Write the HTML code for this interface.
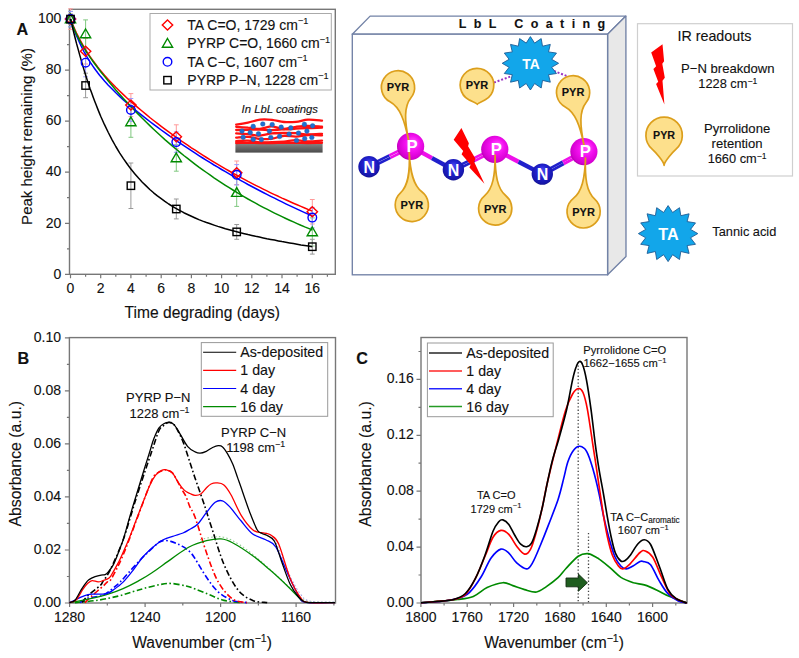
<!DOCTYPE html>
<html><head><meta charset="utf-8"><style>
html,body{margin:0;padding:0;background:#fff;}
svg{display:block;font-family:"Liberation Sans", sans-serif;}
</style></head><body>
<svg width="799" height="658" viewBox="0 0 799 658">
<defs><radialGradient id="gP" cx="0.55" cy="0.45" r="0.6" fx="0.6" fy="0.35"><stop offset="0" stop-color="#ff60ff"/><stop offset="0.45" stop-color="#f410f0"/><stop offset="0.85" stop-color="#d400d0"/><stop offset="1" stop-color="#a800a4"/></radialGradient><radialGradient id="gN" cx="0.5" cy="0.45" r="0.6" fx="0.5" fy="0.3"><stop offset="0" stop-color="#4a4af0"/><stop offset="0.45" stop-color="#2222d0"/><stop offset="0.85" stop-color="#1616a8"/><stop offset="1" stop-color="#0c0c78"/></radialGradient></defs>
<path d="M352.3,34.2 L370.1,16.1 L625.9,16.1 L607.6,34.2 Z" fill="#fff" stroke="#7282a6" stroke-width="1.35" stroke-linejoin="round"/>
<path d="M607.6,34.2 L625.9,16.1 L626,256.4 L607.6,274.8 Z" fill="#e8e8e8" stroke="#7282a6" stroke-width="1.35" stroke-linejoin="round"/>
<rect x="352.3" y="34.2" width="255.3" height="240.6" fill="#fff" stroke="#7282a6" stroke-width="1.35"/>
<text x="458.7" y="27.9" font-size="12.5" font-weight="bold" fill="#111" stroke="#111" stroke-width="0.12" letter-spacing="7.38">LbL Coating</text>
<path d="M494,82.5 L512,76 M554,71 L570.5,77.5" stroke="#9a34c4" stroke-width="2" stroke-dasharray="2,1.8" fill="none"/>
<path d="M411.2,147.6L390.4,157.8" stroke="#ee10ea" stroke-width="2.6"/>
<path d="M390.4,157.8L369.6,168.0" stroke="#2020cc" stroke-width="2.6"/>
<path d="M410.0,145.2L389.2,155.4" stroke="#ee10ea" stroke-width="2.6"/>
<path d="M389.2,155.4L368.4,165.6" stroke="#2020cc" stroke-width="2.6"/>
<path d="M410.6,146.4L432.0,158.1" stroke="#ee10ea" stroke-width="4.4"/>
<path d="M432.0,158.1L453.4,169.8" stroke="#2020cc" stroke-width="4.4"/>
<path d="M495.4,150.5L474.7,160.8" stroke="#ee10ea" stroke-width="2.6"/>
<path d="M474.7,160.8L454.0,171.0" stroke="#2020cc" stroke-width="2.6"/>
<path d="M494.2,148.1L473.5,158.3" stroke="#ee10ea" stroke-width="2.6"/>
<path d="M473.5,158.3L452.8,168.6" stroke="#2020cc" stroke-width="2.6"/>
<path d="M494.8,149.3L518.5,161.7" stroke="#ee10ea" stroke-width="4.4"/>
<path d="M518.5,161.7L542.3,174.1" stroke="#2020cc" stroke-width="4.4"/>
<path d="M584.5,152.8L563.7,164.0" stroke="#ee10ea" stroke-width="2.6"/>
<path d="M563.7,164.0L542.9,175.3" stroke="#2020cc" stroke-width="2.6"/>
<path d="M583.3,150.4L562.5,161.7" stroke="#ee10ea" stroke-width="2.6"/>
<path d="M562.5,161.7L541.7,172.9" stroke="#2020cc" stroke-width="2.6"/>
<circle cx="410.6" cy="146.4" r="13.6" fill="url(#gP)"/>
<circle cx="494.8" cy="149.3" r="13.6" fill="url(#gP)"/>
<circle cx="583.9" cy="151.6" r="13.6" fill="url(#gP)"/>
<circle cx="369.0" cy="166.8" r="10.7" fill="url(#gN)"/>
<circle cx="453.4" cy="169.8" r="10.7" fill="url(#gN)"/>
<circle cx="542.3" cy="174.1" r="10.7" fill="url(#gN)"/>
<path d="M390.02,101.86 C400.06,107.36 404.60,120.42 408.70,141.00 C404.60,120.42 403.79,106.62 410.95,97.69 A16.6,16.6 0 1 0 390.02,101.86Z" fill="#fde08c" stroke="#dc9f1c" stroke-width="1.7" stroke-linejoin="round"/>
<text x="398.0" y="91.4" font-size="11" text-anchor="middle" font-weight="bold" fill="#111" stroke="#111" stroke-width="0.12">PYR</text>
<path d="M421.83,191.77 C413.23,185.25 410.18,172.26 409.20,152.50 C410.18,172.26 408.43,185.49 400.51,192.83 A16.6,16.6 0 1 0 421.83,191.77Z" fill="#fde08c" stroke="#dc9f1c" stroke-width="1.7" stroke-linejoin="round"/>
<text x="411.8" y="209.1" font-size="11" text-anchor="middle" font-weight="bold" fill="#111" stroke="#111" stroke-width="0.12">PYR</text>
<path d="M505.85,195.76 C497.35,188.66 495.14,175.30 495.10,155.00 C495.14,175.30 492.97,188.67 484.51,195.80 A16.6,16.6 0 1 0 505.85,195.76Z" fill="#fde08c" stroke="#dc9f1c" stroke-width="1.7" stroke-linejoin="round"/>
<text x="495.2" y="212.6" font-size="11" text-anchor="middle" font-weight="bold" fill="#111" stroke="#111" stroke-width="0.12">PYR</text>
<path d="M565.23,106.91 C575.19,112.28 579.90,125.18 584.10,145.50 C579.90,125.18 579.11,111.47 586.12,102.59 A16.6,16.6 0 1 0 565.23,106.91Z" fill="#fde08c" stroke="#dc9f1c" stroke-width="1.7" stroke-linejoin="round"/>
<text x="573.1" y="96.4" font-size="11" text-anchor="middle" font-weight="bold" fill="#111" stroke="#111" stroke-width="0.12">PYR</text>
<path d="M594.72,199.07 C586.51,191.67 584.78,178.25 585.50,158.00 C584.78,178.25 582.10,191.51 573.39,198.31 A16.6,16.6 0 1 0 594.72,199.07Z" fill="#fde08c" stroke="#dc9f1c" stroke-width="1.7" stroke-linejoin="round"/>
<text x="583.6" y="215.5" font-size="11" text-anchor="middle" font-weight="bold" fill="#111" stroke="#111" stroke-width="0.12">PYR</text>
<path d="M468.83,99.78 C469.46,100.13 477.29,103.58 477.30,104.30 C477.29,103.58 485.01,99.89 485.63,99.52 A16.8,16.8 0 1 0 468.83,99.78Z" fill="#fde08c" stroke="#dc9f1c" stroke-width="1.7" stroke-linejoin="round"/>
<text x="477.0" y="89.2" font-size="11" text-anchor="middle" font-weight="bold" fill="#111" stroke="#111" stroke-width="0.12">PYR</text>
<text x="412.1" y="152.2" font-size="16.7" text-anchor="middle" font-weight="bold" fill="#fff">P</text>
<text x="496.3" y="155.1" font-size="16.7" text-anchor="middle" font-weight="bold" fill="#fff">P</text>
<text x="585.4" y="157.4" font-size="16.7" text-anchor="middle" font-weight="bold" fill="#fff">P</text>
<text x="369.2" y="172.6" font-size="16" text-anchor="middle" font-weight="bold" fill="#fff">N</text>
<text x="453.6" y="175.6" font-size="16" text-anchor="middle" font-weight="bold" fill="#fff">N</text>
<text x="542.5" y="179.9" font-size="16" text-anchor="middle" font-weight="bold" fill="#fff">N</text>
<path d="M530.4,36.6 L534.6,43.1 L541.2,38.6 L542.5,46.2 L550.3,44.4 L548.5,51.9 L556.5,53.1 L551.7,59.3 L558.6,63.3 L551.7,67.3 L556.5,73.5 L548.5,74.7 L550.3,82.2 L542.5,80.4 L541.2,88.0 L534.6,83.5 L530.4,90.0 L526.2,83.5 L519.6,88.0 L518.3,80.4 L510.5,82.2 L512.3,74.7 L504.3,73.5 L509.1,67.3 L502.2,63.3 L509.1,59.3 L504.3,53.1 L512.3,51.9 L510.5,44.4 L518.3,46.2 L519.6,38.6 L526.2,43.1Z" fill="#12a6ea" stroke="#1d5c96" stroke-width="0.9" stroke-linejoin="miter"/>
<text x="531.0" y="69.3" font-size="13.8" text-anchor="middle" font-weight="bold" fill="#fff">TA</text>
<path transform="translate(461.4,128.1) rotate(-20.7) scale(1.0)" d="M0.0,0.0 L-11.3,8.1 L-6.4,22.0 L-9.1,24.6 L-4.3,37.5 L-6.4,39.6 L1.9,60.2 L0.0,36.5 L2.3,33.4 L-0.2,19.4 L1.6,16.9Z" fill="#ff0000"/>
<rect x="637.5" y="23.7" width="155" height="152.3" fill="#fff" stroke="#cfcfcf" stroke-width="1.2"/>
<text x="714.4" y="40.5" font-size="14.3" text-anchor="middle" fill="#111" stroke="#111" stroke-width="0.12">IR readouts</text>
<path transform="translate(662.5,44.3) rotate(0) scale(1.0)" d="M0.0,0.0 L-11.3,8.1 L-6.4,22.0 L-9.1,24.6 L-4.3,37.5 L-6.4,39.6 L1.9,60.2 L0.0,36.5 L2.3,33.4 L-0.2,19.4 L1.6,16.9Z" fill="#ff0000"/>
<text x="727.8" y="73.0" font-size="13.1" text-anchor="middle" fill="#111" stroke="#111" stroke-width="0.12">P−N breakdown</text>
<text x="727.8" y="88.3" font-size="12.8" text-anchor="middle" fill="#111" stroke="#111" stroke-width="0.12">1228 cm<tspan font-size="8.6" dy="-4.8">−1</tspan></text>
<path d="M651.92,148.83 C654.99,151.59 664.10,161.76 664.10,165.30 C664.10,161.76 673.21,151.59 676.28,148.83 A18.2,18.2 0 1 0 651.92,148.83Z" fill="#fde08c" stroke="#dc9f1c" stroke-width="1.7" stroke-linejoin="round"/>
<text x="664.1" y="139.3" font-size="10.7" text-anchor="middle" font-weight="bold" fill="#111" stroke="#111" stroke-width="0.12">PYR</text>
<text x="737.1" y="132.8" font-size="13.1" text-anchor="middle" fill="#111" stroke="#111" stroke-width="0.12">Pyrrolidone</text>
<text x="737.1" y="148.2" font-size="13.1" text-anchor="middle" fill="#111" stroke="#111" stroke-width="0.12">retention</text>
<text x="737.1" y="163.3" font-size="12.8" text-anchor="middle" fill="#111" stroke="#111" stroke-width="0.12">1660 cm<tspan font-size="8.6" dy="-4.8">−1</tspan></text>
<path d="M668.1,205.6 L672.6,212.5 L679.5,207.7 L680.8,215.7 L689.1,213.8 L687.1,221.6 L695.5,222.9 L690.5,229.4 L697.8,233.6 L690.5,237.8 L695.5,244.3 L687.1,245.6 L689.1,253.4 L680.8,251.5 L679.5,259.5 L672.6,254.7 L668.1,261.6 L663.6,254.7 L656.7,259.5 L655.4,251.5 L647.1,253.4 L649.1,245.6 L640.7,244.3 L645.7,237.8 L638.4,233.6 L645.7,229.4 L640.7,222.9 L649.1,221.6 L647.1,213.8 L655.4,215.7 L656.7,207.7 L663.6,212.5Z" fill="#12a6ea" stroke="#1d5c96" stroke-width="0.9"/>
<text x="668.4" y="240.4" font-size="16.2" text-anchor="middle" font-weight="bold" fill="#fff">TA</text>
<text x="712.3" y="235.9" font-size="12.8" fill="#111" stroke="#111" stroke-width="0.12">Tannic acid</text>
<rect x="69.5" y="9.3" width="265.8" height="265.0" fill="none" stroke="#777" stroke-width="1.4"/>
<path d="M65.0,274.3H69.5 M67.0,248.8H69.5 M65.0,223.3H69.5 M67.0,197.7H69.5 M65.0,172.2H69.5 M67.0,146.7H69.5 M65.0,121.2H69.5 M67.0,95.7H69.5 M65.0,70.1H69.5 M67.0,44.6H69.5 M65.0,19.1H69.5 M70.5,274.3V278.3 M85.6,274.3V276.8 M100.7,274.3V278.3 M115.8,274.3V276.8 M130.9,274.3V278.3 M146.1,274.3V276.8 M161.2,274.3V278.3 M176.3,274.3V276.8 M191.4,274.3V278.3 M206.5,274.3V276.8 M221.6,274.3V278.3 M236.7,274.3V276.8 M251.8,274.3V278.3 M266.9,274.3V276.8 M282.0,274.3V278.3 M297.1,274.3V276.8 M312.3,274.3V278.3 M327.4,274.3V276.8" stroke="#777" stroke-width="1.2" fill="none"/>
<text x="61.3" y="278.5" font-size="14" text-anchor="end" fill="#111" stroke="#111" stroke-width="0.12">0</text>
<text x="61.3" y="227.5" font-size="14" text-anchor="end" fill="#111" stroke="#111" stroke-width="0.12">20</text>
<text x="61.3" y="176.4" font-size="14" text-anchor="end" fill="#111" stroke="#111" stroke-width="0.12">40</text>
<text x="61.3" y="125.4" font-size="14" text-anchor="end" fill="#111" stroke="#111" stroke-width="0.12">60</text>
<text x="61.3" y="74.3" font-size="14" text-anchor="end" fill="#111" stroke="#111" stroke-width="0.12">80</text>
<text x="61.3" y="23.3" font-size="14" text-anchor="end" fill="#111" stroke="#111" stroke-width="0.12">100</text>
<text x="70.5" y="293.2" font-size="14" text-anchor="middle" fill="#111" stroke="#111" stroke-width="0.12">0</text>
<text x="100.7" y="293.2" font-size="14" text-anchor="middle" fill="#111" stroke="#111" stroke-width="0.12">2</text>
<text x="130.9" y="293.2" font-size="14" text-anchor="middle" fill="#111" stroke="#111" stroke-width="0.12">4</text>
<text x="161.2" y="293.2" font-size="14" text-anchor="middle" fill="#111" stroke="#111" stroke-width="0.12">6</text>
<text x="191.4" y="293.2" font-size="14" text-anchor="middle" fill="#111" stroke="#111" stroke-width="0.12">8</text>
<text x="221.6" y="293.2" font-size="14" text-anchor="middle" fill="#111" stroke="#111" stroke-width="0.12">10</text>
<text x="251.8" y="293.2" font-size="14" text-anchor="middle" fill="#111" stroke="#111" stroke-width="0.12">12</text>
<text x="282.0" y="293.2" font-size="14" text-anchor="middle" fill="#111" stroke="#111" stroke-width="0.12">14</text>
<text x="312.3" y="293.2" font-size="14" text-anchor="middle" fill="#111" stroke="#111" stroke-width="0.12">16</text>
<text x="202.3" y="317.6" font-size="15.6" text-anchor="middle" fill="#111" stroke="#111" stroke-width="0.12">Time degrading (days)</text>
<text transform="translate(31.6,136.5) rotate(-90)" font-size="15" text-anchor="middle" fill="#111" stroke="#111" stroke-width="0.12">Peak height remaining (%)</text>
<text x="16.6" y="35.3" font-size="16.2" font-weight="bold" fill="#111" stroke="#111" stroke-width="0.12">A</text>
<path d="M70.5,8.9V29.3M68.1,8.9h4.8M68.1,29.3h4.8M85.6,38.5V64.0M83.2,38.5h4.8M83.2,64.0h4.8M130.9,93.6V116.6M128.5,93.6h4.8M128.5,116.6h4.8M176.3,124.8V148.7M173.9,124.8h4.8M173.9,148.7h4.8M236.7,161.0V184.5M234.3,161.0h4.8M234.3,184.5h4.8M312.3,199.5V224.0M309.9,199.5h4.8M309.9,224.0h4.8" stroke="#ff9a9a" stroke-width="1" fill="none"/>
<path d="M70.5,11.4V26.8M68.1,11.4h4.8M68.1,26.8h4.8M85.6,19.9V47.9M83.2,19.9h4.8M83.2,47.9h4.8M130.9,106.6V137.3M128.5,106.6h4.8M128.5,137.3h4.8M176.3,144.7V171.2M173.9,144.7h4.8M173.9,171.2h4.8M236.7,178.9V206.4M234.3,178.9h4.8M234.3,206.4h4.8M312.3,217.9V246.0M309.9,217.9h4.8M309.9,246.0h4.8" stroke="#80c880" stroke-width="1" fill="none"/>
<path d="M70.5,11.4V26.8M68.1,11.4h4.8M68.1,26.8h4.8M85.6,48.7V76.8M83.2,48.7h4.8M83.2,76.8h4.8M130.9,98.5V121.4M128.5,98.5h4.8M128.5,121.4h4.8M176.3,131.9V152.3M173.9,131.9h4.8M173.9,152.3h4.8M236.7,164.6V185.0M234.3,164.6h4.8M234.3,185.0h4.8M312.3,207.4V227.9M309.9,207.4h4.8M309.9,227.9h4.8" stroke="#9a9aff" stroke-width="1" fill="none"/>
<path d="M70.5,14.0V24.2M68.1,14.0h4.8M68.1,24.2h4.8M85.6,73.2V97.7M83.2,73.2h4.8M83.2,97.7h4.8M130.9,163.0V208.5M128.5,163.0h4.8M128.5,208.5h4.8M176.3,199.0V218.9M173.9,199.0h4.8M173.9,218.9h4.8M236.7,224.5V239.3M234.3,224.5h4.8M234.3,239.3h4.8M312.3,239.3V254.1M309.9,239.3h4.8M309.9,254.1h4.8" stroke="#999999" stroke-width="1" fill="none"/>
<path d="M70.5,19.1 L72.0,22.9 L73.5,26.4 L75.0,29.8 L76.5,33.1 L78.1,36.1 L79.6,39.1 L81.1,41.9 L82.6,44.6 L84.1,47.2 L85.6,49.7 L87.1,52.1 L88.6,54.4 L90.1,56.7 L91.7,58.9 L93.2,61.0 L94.7,63.0 L96.2,65.0 L97.7,67.0 L99.2,68.9 L100.7,70.7 L104.5,75.2 L108.3,79.4 L112.1,83.4 L115.8,87.3 L119.6,91.0 L123.4,94.6 L127.2,98.2 L130.9,101.6 L134.7,104.9 L138.5,108.1 L142.3,111.3 L146.1,114.4 L149.8,117.5 L153.6,120.5 L157.4,123.4 L161.2,126.3 L164.9,129.1 L168.7,131.9 L172.5,134.7 L176.3,137.4 L180.0,140.0 L183.8,142.6 L187.6,145.2 L191.4,147.8 L195.2,150.2 L198.9,152.7 L202.7,155.1 L206.5,157.5 L210.3,159.8 L214.0,162.1 L217.8,164.4 L221.6,166.6 L225.4,168.8 L229.2,171.0 L232.9,173.1 L236.7,175.2 L240.5,177.3 L244.3,179.3 L248.0,181.4 L251.8,183.3 L255.6,185.3 L259.4,187.2 L263.2,189.1 L266.9,190.9 L270.7,192.8 L274.5,194.6 L278.3,196.3 L282.0,198.1 L285.8,199.8 L289.6,201.5 L293.4,203.2 L297.1,204.8 L300.9,206.4 L304.7,208.0 L308.5,209.6 L312.3,211.1" stroke="#ff0000" stroke-width="1.5" fill="none" stroke-linejoin="round"/>
<path d="M70.5,19.2 L72.0,23.7 L73.5,28.0 L75.0,32.0 L76.5,35.7 L78.1,39.3 L79.6,42.7 L81.1,45.9 L82.6,48.9 L84.1,51.8 L85.6,54.5 L87.1,57.2 L88.6,59.7 L90.1,62.1 L91.7,64.4 L93.2,66.6 L94.7,68.7 L96.2,70.8 L97.7,72.8 L99.2,74.7 L100.7,76.6 L104.5,81.0 L108.3,85.2 L112.1,89.1 L115.8,92.8 L119.6,96.4 L123.4,99.9 L127.2,103.2 L130.9,106.4 L134.7,109.6 L138.5,112.7 L142.3,115.7 L146.1,118.6 L149.8,121.5 L153.6,124.4 L157.4,127.2 L161.2,130.0 L164.9,132.7 L168.7,135.4 L172.5,138.0 L176.3,140.6 L180.0,143.2 L183.8,145.7 L187.6,148.2 L191.4,150.7 L195.2,153.2 L198.9,155.6 L202.7,158.0 L206.5,160.3 L210.3,162.7 L214.0,165.0 L217.8,167.2 L221.6,169.5 L225.4,171.7 L229.2,173.9 L232.9,176.0 L236.7,178.2 L240.5,180.3 L244.3,182.4 L248.0,184.5 L251.8,186.5 L255.6,188.5 L259.4,190.5 L263.2,192.5 L266.9,194.4 L270.7,196.3 L274.5,198.2 L278.3,200.1 L282.0,201.9 L285.8,203.8 L289.6,205.6 L293.4,207.4 L297.1,209.1 L300.9,210.9 L304.7,212.6 L308.5,214.3 L312.3,216.0" stroke="#0000ff" stroke-width="1.5" fill="none" stroke-linejoin="round"/>
<path d="M70.5,19.1 L72.0,23.4 L73.5,27.4 L75.0,31.0 L76.5,34.3 L78.1,37.4 L79.6,40.4 L81.1,43.1 L82.6,45.7 L84.1,48.2 L85.6,50.6 L87.1,53.0 L88.6,55.2 L90.1,57.4 L91.7,59.6 L93.2,61.7 L94.7,63.7 L96.2,65.8 L97.7,67.8 L99.2,69.7 L100.7,71.7 L104.5,76.4 L108.3,81.0 L112.1,85.5 L115.8,89.9 L119.6,94.2 L123.4,98.4 L127.2,102.6 L130.9,106.6 L134.7,110.6 L138.5,114.4 L142.3,118.3 L146.1,122.0 L149.8,125.6 L153.6,129.2 L157.4,132.7 L161.2,136.2 L164.9,139.6 L168.7,142.9 L172.5,146.1 L176.3,149.3 L180.0,152.4 L183.8,155.5 L187.6,158.4 L191.4,161.4 L195.2,164.3 L198.9,167.1 L202.7,169.8 L206.5,172.5 L210.3,175.2 L214.0,177.8 L217.8,180.3 L221.6,182.8 L225.4,185.3 L229.2,187.7 L232.9,190.0 L236.7,192.4 L240.5,194.6 L244.3,196.8 L248.0,199.0 L251.8,201.1 L255.6,203.2 L259.4,205.3 L263.2,207.3 L266.9,209.2 L270.7,211.2 L274.5,213.1 L278.3,214.9 L282.0,216.7 L285.8,218.5 L289.6,220.2 L293.4,221.9 L297.1,223.6 L300.9,225.3 L304.7,226.9 L308.5,228.4 L312.3,230.0" stroke="#008a00" stroke-width="1.5" fill="none" stroke-linejoin="round"/>
<path d="M70.5,18.8 L72.0,25.2 L73.5,31.5 L75.0,37.5 L76.5,43.4 L78.1,49.1 L79.6,54.6 L81.1,59.9 L82.6,65.1 L84.1,70.1 L85.6,75.0 L87.1,79.7 L88.6,84.3 L90.1,88.7 L91.7,93.0 L93.2,97.2 L94.7,101.2 L96.2,105.1 L97.7,108.9 L99.2,112.6 L100.7,116.2 L104.5,124.7 L108.3,132.5 L112.1,139.8 L115.8,146.5 L119.6,152.8 L123.4,158.6 L127.2,164.0 L130.9,169.1 L134.7,173.7 L138.5,178.1 L142.3,182.2 L146.1,185.9 L149.8,189.5 L153.6,192.8 L157.4,195.9 L161.2,198.7 L164.9,201.4 L168.7,204.0 L172.5,206.4 L176.3,208.6 L180.0,210.7 L183.8,212.7 L187.6,214.5 L191.4,216.3 L195.2,218.0 L198.9,219.6 L202.7,221.1 L206.5,222.5 L210.3,223.8 L214.0,225.1 L217.8,226.4 L221.6,227.5 L225.4,228.7 L229.2,229.8 L232.9,230.8 L236.7,231.8 L240.5,232.8 L244.3,233.7 L248.0,234.6 L251.8,235.4 L255.6,236.3 L259.4,237.1 L263.2,237.9 L266.9,238.7 L270.7,239.4 L274.5,240.1 L278.3,240.9 L282.0,241.6 L285.8,242.2 L289.6,242.9 L293.4,243.6 L297.1,244.2 L300.9,244.9 L304.7,245.5 L308.5,246.1 L312.3,246.7" stroke="#000000" stroke-width="1.5" fill="none" stroke-linejoin="round"/>
<path d="M70.5,14.1L75.7,19.1L70.5,24.1L65.3,19.1Z" fill="none" stroke="#ff0000" stroke-width="1.4"/>
<path d="M85.6,46.3L90.8,51.3L85.6,56.3L80.4,51.3Z" fill="none" stroke="#ff0000" stroke-width="1.4"/>
<path d="M130.9,100.1L136.1,105.1L130.9,110.1L125.7,105.1Z" fill="none" stroke="#ff0000" stroke-width="1.4"/>
<path d="M176.3,131.7L181.5,136.7L176.3,141.7L171.1,136.7Z" fill="none" stroke="#ff0000" stroke-width="1.4"/>
<path d="M236.7,167.7L241.9,172.7L236.7,177.7L231.5,172.7Z" fill="none" stroke="#ff0000" stroke-width="1.4"/>
<path d="M312.3,206.8L317.5,211.8L312.3,216.8L307.1,211.8Z" fill="none" stroke="#ff0000" stroke-width="1.4"/>
<path d="M70.5,14.2L75.6,22.9H65.4Z" fill="none" stroke="#008a00" stroke-width="1.4"/>
<path d="M85.6,29.0L90.7,37.7H80.5Z" fill="none" stroke="#008a00" stroke-width="1.4"/>
<path d="M130.9,117.0L136.0,125.7H125.8Z" fill="none" stroke="#008a00" stroke-width="1.4"/>
<path d="M176.3,153.0L181.4,161.7H171.2Z" fill="none" stroke="#008a00" stroke-width="1.4"/>
<path d="M236.7,187.7L241.8,196.4H231.6Z" fill="none" stroke="#008a00" stroke-width="1.4"/>
<path d="M312.3,227.0L317.4,235.7H307.2Z" fill="none" stroke="#008a00" stroke-width="1.4"/>
<circle cx="70.5" cy="19.1" r="4.3" fill="none" stroke="#0000ff" stroke-width="1.4"/>
<circle cx="85.6" cy="62.7" r="4.3" fill="none" stroke="#0000ff" stroke-width="1.4"/>
<circle cx="130.9" cy="110.0" r="4.3" fill="none" stroke="#0000ff" stroke-width="1.4"/>
<circle cx="176.3" cy="142.1" r="4.3" fill="none" stroke="#0000ff" stroke-width="1.4"/>
<circle cx="236.7" cy="174.8" r="4.3" fill="none" stroke="#0000ff" stroke-width="1.4"/>
<circle cx="312.3" cy="217.6" r="4.3" fill="none" stroke="#0000ff" stroke-width="1.4"/>
<rect x="66.8" y="15.4" width="7.4" height="7.4" fill="none" stroke="#000000" stroke-width="1.4"/>
<rect x="81.9" y="81.8" width="7.4" height="7.4" fill="none" stroke="#000000" stroke-width="1.4"/>
<rect x="127.2" y="182.0" width="7.4" height="7.4" fill="none" stroke="#000000" stroke-width="1.4"/>
<rect x="172.6" y="205.3" width="7.4" height="7.4" fill="none" stroke="#000000" stroke-width="1.4"/>
<rect x="233.0" y="228.2" width="7.4" height="7.4" fill="none" stroke="#000000" stroke-width="1.4"/>
<rect x="308.6" y="243.0" width="7.4" height="7.4" fill="none" stroke="#000000" stroke-width="1.4"/>
<text x="241.6" y="112.6" font-size="11.3" font-style="italic" fill="#111" stroke="#111" stroke-width="0.12">In LbL coatings</text>
<defs><linearGradient id="sub" x1="0" y1="0" x2="0" y2="1"><stop offset="0" stop-color="#8a8a8a"/><stop offset="1" stop-color="#4a4a4a"/></linearGradient></defs>
<rect x="235.4" y="142.8" width="87.2" height="9.8" fill="url(#sub)"/>
<path d="M236.2,124.6 C238.2,124.3 244.0,123.4 248.0,122.6 C252.0,121.8 256.0,120.1 260.0,119.6 C264.0,119.1 268.0,119.4 272.0,119.8 C276.0,120.2 280.0,121.7 284.0,122.0 C288.0,122.3 292.0,122.2 296.0,121.8 C300.0,121.4 303.7,119.8 308.0,119.6 C312.3,119.4 319.7,120.4 322.0,120.6" stroke="#ff1010" stroke-width="2.3" fill="none" stroke-linecap="round"/>
<path d="M236.2,126.8 C238.2,126.9 244.0,127.2 248.0,127.6 C252.0,127.9 256.0,129.1 260.0,128.9 C264.0,128.7 268.0,126.3 272.0,126.4 C276.0,126.5 280.0,129.0 284.0,129.4 C288.0,129.8 292.0,128.8 296.0,128.6 C300.0,128.4 303.7,128.2 308.0,128.0 C312.3,127.8 319.7,127.7 322.0,127.6" stroke="#ff1010" stroke-width="2.3" fill="none" stroke-linecap="round"/>
<path d="M236.2,130.0 C238.2,130.0 244.0,129.9 248.0,129.8 C252.0,129.7 256.0,129.5 260.0,129.6 C264.0,129.7 268.0,130.3 272.0,130.2 C276.0,130.1 280.0,129.6 284.0,129.0 C288.0,128.4 292.0,127.3 296.0,126.8 C300.0,126.3 303.7,125.8 308.0,125.8 C312.3,125.8 319.7,126.5 322.0,126.6" stroke="#ff1010" stroke-width="2.3" fill="none" stroke-linecap="round"/>
<path d="M236.2,133.4 C238.2,133.5 244.0,133.8 248.0,134.2 C252.0,134.6 256.0,135.7 260.0,135.6 C264.0,135.5 268.0,133.8 272.0,133.4 C276.0,133.0 280.0,133.0 284.0,133.0 C288.0,133.0 292.0,133.0 296.0,133.2 C300.0,133.4 303.7,134.3 308.0,134.4 C312.3,134.5 319.7,133.9 322.0,133.8" stroke="#ff1010" stroke-width="2.3" fill="none" stroke-linecap="round"/>
<path d="M236.2,137.6 C238.2,137.5 244.0,136.6 248.0,136.8 C252.0,137.0 256.0,138.7 260.0,139.0 C264.0,139.3 268.0,139.1 272.0,138.6 C276.0,138.1 280.0,136.1 284.0,135.8 C288.0,135.5 292.0,136.7 296.0,136.6 C300.0,136.5 303.7,135.2 308.0,135.0 C312.3,134.8 319.7,135.3 322.0,135.4" stroke="#ff1010" stroke-width="2.3" fill="none" stroke-linecap="round"/>
<path d="M236.2,141.2 C238.2,141.1 244.0,140.4 248.0,140.6 C252.0,140.8 256.0,142.1 260.0,142.4 C264.0,142.7 268.0,142.3 272.0,142.2 C276.0,142.1 280.0,141.9 284.0,141.6 C288.0,141.3 292.0,140.2 296.0,140.2 C300.0,140.2 303.7,141.3 308.0,141.4 C312.3,141.5 319.7,140.7 322.0,140.6" stroke="#ff1010" stroke-width="2.3" fill="none" stroke-linecap="round"/>
<path d="M236.2,143.0 C238.2,143.0 244.0,142.8 248.0,142.8 C252.0,142.8 256.0,143.0 260.0,143.0 C264.0,143.0 268.0,143.0 272.0,143.0 C276.0,143.0 280.0,142.8 284.0,142.8 C288.0,142.8 292.0,142.8 296.0,142.8 C300.0,142.8 303.7,143.0 308.0,143.0 C312.3,143.0 319.7,142.8 322.0,142.8" stroke="#ff1010" stroke-width="2.3" fill="none" stroke-linecap="round"/>
<circle cx="253.2" cy="126.4" r="2.35" fill="#1f6fd0" stroke="#1a5aa8" stroke-width="0.4"/>
<circle cx="262.8" cy="124" r="2.35" fill="#1f6fd0" stroke="#1a5aa8" stroke-width="0.4"/>
<circle cx="272.2" cy="124.6" r="2.35" fill="#1f6fd0" stroke="#1a5aa8" stroke-width="0.4"/>
<circle cx="281.2" cy="127.2" r="2.35" fill="#1f6fd0" stroke="#1a5aa8" stroke-width="0.4"/>
<circle cx="290.8" cy="127.9" r="2.35" fill="#1f6fd0" stroke="#1a5aa8" stroke-width="0.4"/>
<circle cx="304.4" cy="124.4" r="2.35" fill="#1f6fd0" stroke="#1a5aa8" stroke-width="0.4"/>
<circle cx="312.6" cy="125.8" r="2.35" fill="#1f6fd0" stroke="#1a5aa8" stroke-width="0.4"/>
<circle cx="242" cy="131.1" r="2.35" fill="#1f6fd0" stroke="#1a5aa8" stroke-width="0.4"/>
<circle cx="250.2" cy="132.6" r="2.35" fill="#1f6fd0" stroke="#1a5aa8" stroke-width="0.4"/>
<circle cx="258.5" cy="133.8" r="2.35" fill="#1f6fd0" stroke="#1a5aa8" stroke-width="0.4"/>
<circle cx="269.4" cy="131.1" r="2.35" fill="#1f6fd0" stroke="#1a5aa8" stroke-width="0.4"/>
<circle cx="289.1" cy="134.2" r="2.35" fill="#1f6fd0" stroke="#1a5aa8" stroke-width="0.4"/>
<circle cx="298.5" cy="133.1" r="2.35" fill="#1f6fd0" stroke="#1a5aa8" stroke-width="0.4"/>
<circle cx="306.9" cy="131.1" r="2.35" fill="#1f6fd0" stroke="#1a5aa8" stroke-width="0.4"/>
<circle cx="243.2" cy="137.3" r="2.35" fill="#1f6fd0" stroke="#1a5aa8" stroke-width="0.4"/>
<circle cx="253.2" cy="139.3" r="2.35" fill="#1f6fd0" stroke="#1a5aa8" stroke-width="0.4"/>
<circle cx="261.4" cy="139.6" r="2.35" fill="#1f6fd0" stroke="#1a5aa8" stroke-width="0.4"/>
<circle cx="270.8" cy="137.5" r="2.35" fill="#1f6fd0" stroke="#1a5aa8" stroke-width="0.4"/>
<circle cx="279.6" cy="136.4" r="2.35" fill="#1f6fd0" stroke="#1a5aa8" stroke-width="0.4"/>
<circle cx="296.5" cy="140.5" r="2.35" fill="#1f6fd0" stroke="#1a5aa8" stroke-width="0.4"/>
<circle cx="304.7" cy="138.7" r="2.35" fill="#1f6fd0" stroke="#1a5aa8" stroke-width="0.4"/>
<circle cx="311.8" cy="137.5" r="2.35" fill="#1f6fd0" stroke="#1a5aa8" stroke-width="0.4"/>
<rect x="150" y="13.5" width="181.3" height="76.5" fill="#fff" stroke="#aaa" stroke-width="1"/>
<path d="M167.5,20.0L172.7,25.0L167.5,30.0L162.3,25.0Z" fill="none" stroke="#ff0000" stroke-width="1.4"/>
<text x="187.3" y="29.8" font-size="14" fill="#111" stroke="#111" stroke-width="0.12">TA C=O, 1729 cm<tspan font-size="9.2" dy="-5.6">−1</tspan></text>
<path d="M167.5,38.5L172.6,47.2H162.4Z" fill="none" stroke="#008a00" stroke-width="1.4"/>
<text x="187.3" y="48.2" font-size="14" fill="#111" stroke="#111" stroke-width="0.12">PYRP C=O, 1660 cm<tspan font-size="9.2" dy="-5.6">−1</tspan></text>
<circle cx="167.5" cy="61.8" r="4.3" fill="none" stroke="#0000ff" stroke-width="1.4"/>
<text x="187.3" y="66.6" font-size="14" fill="#111" stroke="#111" stroke-width="0.12">TA C−C, 1607 cm<tspan font-size="9.2" dy="-5.6">−1</tspan></text>
<rect x="163.8" y="76.5" width="7.4" height="7.4" fill="none" stroke="#000000" stroke-width="1.4"/>
<text x="187.3" y="85.0" font-size="14" fill="#111" stroke="#111" stroke-width="0.12">PYRP P−N, 1228 cm<tspan font-size="9.2" dy="-5.6">−1</tspan></text>
<rect x="69.4" y="337.6" width="266.1" height="265.4" fill="none" stroke="#777" stroke-width="1.4"/>
<path d="M64.9,603.0H69.4 M66.9,576.5H69.4 M64.9,550.0H69.4 M66.9,523.4H69.4 M64.9,496.9H69.4 M66.9,470.4H69.4 M64.9,443.9H69.4 M66.9,417.4H69.4 M64.9,390.8H69.4 M66.9,364.3H69.4 M64.9,337.8H69.4 M69.6,603.0V607.0 M107.3,603.0V605.5 M145.1,603.0V607.0 M182.8,603.0V605.5 M220.6,603.0V607.0 M258.4,603.0V605.5 M296.1,603.0V607.0 M333.9,603.0V605.5" stroke="#777" stroke-width="1.2" fill="none"/>
<text x="61.0" y="607.0" font-size="14" text-anchor="end" fill="#111" stroke="#111" stroke-width="0.12">0.00</text>
<text x="61.0" y="554.0" font-size="14" text-anchor="end" fill="#111" stroke="#111" stroke-width="0.12">0.02</text>
<text x="61.0" y="500.9" font-size="14" text-anchor="end" fill="#111" stroke="#111" stroke-width="0.12">0.04</text>
<text x="61.0" y="447.9" font-size="14" text-anchor="end" fill="#111" stroke="#111" stroke-width="0.12">0.06</text>
<text x="61.0" y="394.8" font-size="14" text-anchor="end" fill="#111" stroke="#111" stroke-width="0.12">0.08</text>
<text x="61.0" y="341.8" font-size="14" text-anchor="end" fill="#111" stroke="#111" stroke-width="0.12">0.10</text>
<text x="69.6" y="621.9" font-size="14" text-anchor="middle" fill="#111" stroke="#111" stroke-width="0.12">1280</text>
<text x="145.1" y="621.9" font-size="14" text-anchor="middle" fill="#111" stroke="#111" stroke-width="0.12">1240</text>
<text x="220.6" y="621.9" font-size="14" text-anchor="middle" fill="#111" stroke="#111" stroke-width="0.12">1200</text>
<text x="296.1" y="621.9" font-size="14" text-anchor="middle" fill="#111" stroke="#111" stroke-width="0.12">1160</text>
<text x="202.0" y="648.2" font-size="15.6" text-anchor="middle" fill="#111" stroke="#111" stroke-width="0.12">Wavenumber (cm<tspan font-size="10.5" dy="-5.8">&#8722;1</tspan><tspan dy="5.8">)</tspan></text>
<text transform="translate(20.9,463.7) rotate(-90)" font-size="15.8" text-anchor="middle" fill="#111" stroke="#111" stroke-width="0.12">Absorbance (a.u.)</text>
<text x="17.4" y="364.0" font-size="16.2" font-weight="bold" fill="#111" stroke="#111" stroke-width="0.12">B</text>
<clipPath id="clipB"><rect x="69.4" y="337.6" width="266.1" height="266.4"/></clipPath>
<g clip-path="url(#clipB)">
<path d="M75.0,602.6 C78.8,602.2 90.9,601.3 98.1,600.2 C105.3,599.1 112.2,597.5 118.1,596.1 C123.9,594.7 128.7,592.9 133.2,591.6 C137.7,590.3 140.7,589.3 145.2,588.1 C149.7,586.9 155.9,585.3 160.3,584.5 C164.7,583.7 167.5,583.2 171.8,583.5 C176.1,583.8 182.3,585.1 186.2,586.0 C190.1,586.9 191.1,587.4 195.0,588.9 C198.9,590.4 204.6,592.8 209.4,594.7 C214.2,596.6 218.6,599.1 223.9,600.4 C229.2,601.7 238.3,602.2 241.2,602.6" stroke="#008a00" stroke-width="1.6" fill="none" stroke-dasharray="6,2.5,1.6,2.5"/>
<path d="M80.0,602.6 C81.3,601.9 84.2,599.4 88.0,598.1 C91.8,596.9 98.9,596.8 103.1,595.1 C107.3,593.4 110.3,590.3 113.1,588.1 C115.9,585.9 117.6,584.6 120.1,582.1 C122.6,579.6 125.2,576.4 128.2,573.1 C131.2,569.8 135.0,565.5 138.2,562.1 C141.4,558.8 144.0,556.1 147.2,553.0 C150.4,549.9 154.7,545.6 157.4,543.5 C160.1,541.4 161.0,541.0 163.2,540.6 C165.4,540.2 168.5,540.9 170.8,541.4 C173.1,541.9 174.9,542.8 176.9,543.7 C178.9,544.6 180.8,545.3 183.0,546.7 C185.2,548.1 188.0,550.0 190.0,552.0 C192.0,554.0 192.2,554.4 195.0,558.6 C197.8,562.8 202.7,571.8 206.5,577.3 C210.3,582.8 213.8,587.9 218.1,591.8 C222.4,595.6 227.7,598.6 232.5,600.4 C237.3,602.2 244.6,602.2 247.0,602.6" stroke="#0000ff" stroke-width="1.6" fill="none" stroke-dasharray="6,2.5,1.6,2.5"/>
<path d="M85.0,602.6 C86.0,601.6 88.1,599.4 91.1,596.6 C94.1,593.9 100.4,588.5 103.1,586.1 C105.8,583.7 105.8,583.3 107.1,582.1 C108.4,580.9 108.6,583.4 111.2,579.0 C113.8,574.6 118.4,566.1 122.7,556.0 C127.0,545.9 132.4,530.8 137.2,518.2 C142.0,505.6 148.2,488.1 151.6,480.6 C155.0,473.1 155.6,474.7 157.5,473.0 C159.4,471.3 161.7,471.0 163.2,470.5 C164.7,470.0 164.8,469.5 166.3,469.9 C167.8,470.3 170.4,470.8 172.4,472.9 C174.4,475.0 176.9,480.1 178.4,482.8 C179.9,485.5 180.2,486.6 181.5,488.9 C182.8,491.2 184.6,493.5 186.0,496.5 C187.4,499.5 188.5,503.7 190.0,507.1 C191.5,510.5 192.2,509.4 195.0,517.0 C197.8,524.6 202.7,542.0 206.5,552.8 C210.3,563.6 213.8,574.0 218.1,581.7 C222.4,589.4 227.7,595.5 232.5,599.0 C237.3,602.5 244.6,602.0 247.0,602.6" stroke="#ff0000" stroke-width="1.6" fill="none" stroke-dasharray="6,2.5,1.6,2.5"/>
<path d="M82.0,602.6 C83.0,601.4 85.0,598.4 88.0,595.6 C91.0,592.8 97.6,588.0 100.1,585.6 C102.6,583.2 101.4,583.7 103.1,581.1 C104.8,578.5 106.8,577.0 110.1,570.1 C113.4,563.2 118.6,552.5 123.1,540.0 C127.6,527.5 132.4,509.7 137.2,495.0 C141.9,480.3 148.0,462.5 151.6,451.8 C155.2,441.1 156.9,435.3 158.8,431.0 C160.7,426.7 161.5,427.2 163.2,425.8 C164.9,424.4 167.1,422.5 168.9,422.3 C170.7,422.1 172.2,422.7 173.8,424.4 C175.5,426.1 177.1,429.3 178.8,432.5 C180.5,435.7 181.9,438.8 183.8,443.8 C185.7,448.8 188.1,456.9 190.0,462.6 C191.9,468.3 192.8,471.5 195.1,478.2 C197.4,484.9 200.8,494.4 203.7,503.0 C206.6,511.6 208.9,519.5 212.3,529.7 C215.7,539.9 219.6,554.2 223.9,564.3 C228.2,574.4 233.5,584.3 238.3,590.3 C243.1,596.3 247.9,598.3 252.7,600.4 C257.5,602.5 264.8,602.2 267.2,602.6" stroke="#000000" stroke-width="1.6" fill="none" stroke-dasharray="6,2.5,1.6,2.5"/>
<path d="M200.0,539.5 C203.5,539.0 214.3,535.9 221.0,536.8 C227.7,537.7 233.1,540.7 240.0,545.0 C246.9,549.3 255.1,556.4 262.3,562.5 C269.5,568.6 277.2,576.1 283.2,581.5 C289.1,586.9 293.9,591.7 298.0,595.0 C302.1,598.3 301.7,600.2 308.0,601.4 C314.3,602.6 331.3,602.1 336.0,602.2" stroke="#90cc90" stroke-width="1.1" stroke-dasharray="1.6,2.2" fill="none"/>
<path d="M262.0,532.5 C263.7,533.1 269.0,532.8 272.0,536.0 C275.0,539.2 277.0,545.3 280.0,552.0 C283.0,558.7 286.7,569.1 290.0,576.0 C293.3,582.9 296.7,589.3 300.0,593.5 C303.3,597.7 304.0,599.8 310.0,601.2 C316.0,602.6 331.7,601.9 336.0,602.0" stroke="#a8a0dc" stroke-width="1.1" stroke-dasharray="1.6,2.2" fill="none"/>
<path d="M69.3,602.6 C72.4,602.0 81.5,600.5 88.0,599.1 C94.5,597.7 102.2,595.9 108.1,594.1 C113.9,592.4 118.1,590.8 123.1,588.6 C128.1,586.4 133.4,583.7 138.2,581.1 C142.9,578.5 146.0,576.8 151.6,573.0 C157.2,569.2 165.6,562.9 171.8,558.6 C178.1,554.3 183.3,550.0 189.1,547.0 C194.9,544.0 201.2,542.1 206.5,540.7 C211.8,539.4 216.7,538.6 221.0,538.9 C225.3,539.2 227.2,539.9 232.5,542.7 C237.8,545.5 246.4,551.1 252.7,555.7 C259.0,560.3 264.3,565.1 270.1,570.1 C275.9,575.1 282.6,581.4 287.4,586.0 C292.2,590.6 295.8,594.8 298.9,597.5 C302.0,600.2 300.1,601.5 306.1,602.4 C312.1,603.2 330.2,602.6 335.0,602.6" stroke="#008a00" stroke-width="1.3" fill="none"/>
<path d="M69.3,602.6 C70.1,602.2 72.0,601.4 74.0,600.5 C76.0,599.6 78.7,598.1 81.0,597.1 C83.3,596.1 86.0,595.1 88.0,594.6 C90.0,594.1 90.6,594.2 93.1,594.1 C95.6,594.0 100.6,594.3 103.1,594.1 C105.6,593.9 106.4,593.8 108.1,593.1 C109.8,592.4 110.6,591.9 113.1,590.1 C115.6,588.3 119.8,585.4 123.1,582.1 C126.4,578.8 130.3,573.8 133.2,570.1 C136.1,566.4 138.7,562.3 140.4,560.0 C142.1,557.7 141.2,558.6 143.2,556.5 C145.2,554.4 149.3,550.3 152.6,547.5 C155.9,544.7 159.6,541.7 163.2,539.8 C166.8,537.9 170.6,537.1 173.9,536.0 C177.2,534.9 180.3,534.1 183.0,533.0 C185.7,531.9 187.5,530.7 190.0,529.2 C192.5,527.7 195.1,526.8 197.8,524.0 C200.6,521.2 203.6,516.0 206.5,512.4 C209.4,508.8 212.5,504.2 215.2,502.3 C217.8,500.4 220.0,500.1 222.4,500.8 C224.8,501.5 226.5,503.2 229.6,506.6 C232.7,510.0 237.3,516.4 241.2,521.0 C245.0,525.6 248.6,530.9 252.7,534.0 C256.8,537.1 261.8,537.6 265.7,539.8 C269.6,542.0 272.2,541.5 275.8,547.0 C279.4,552.5 283.5,564.8 287.4,573.0 C291.2,581.2 295.8,591.2 298.9,596.1 C302.0,601.0 300.1,601.3 306.1,602.4 C312.1,603.5 330.2,602.6 335.0,602.6" stroke="#0000ff" stroke-width="1.3" fill="none"/>
<path d="M69.3,602.6 C70.4,602.2 73.7,602.2 76.0,600.0 C78.3,597.8 81.0,591.9 83.0,589.1 C85.0,586.3 86.5,584.5 88.0,583.1 C89.5,581.7 90.4,580.8 92.1,580.6 C93.8,580.4 96.3,581.9 98.1,581.9 C99.9,581.9 101.3,581.2 103.1,580.6 C104.9,580.0 107.4,579.5 109.1,578.1 C110.8,576.7 111.6,574.6 113.1,572.1 C114.6,569.6 116.8,565.5 118.1,563.1 C119.3,560.8 118.9,561.8 120.6,558.0 C122.3,554.2 125.8,546.8 128.3,540.6 C130.9,534.4 133.4,527.4 135.9,520.8 C138.4,514.2 141.2,506.9 143.5,501.1 C145.8,495.3 147.5,490.2 149.5,485.9 C151.5,481.6 153.6,477.8 155.6,475.2 C157.6,472.6 159.9,471.2 161.7,470.3 C163.5,469.4 164.5,469.5 166.3,469.9 C168.1,470.3 170.4,470.8 172.4,472.9 C174.4,475.0 176.4,479.9 178.4,482.8 C180.4,485.7 182.6,488.6 184.5,490.4 C186.4,492.2 188.2,492.7 190.0,493.5 C191.8,494.3 193.2,495.2 195.0,495.3 C196.8,495.4 198.9,495.2 200.8,494.0 C202.7,492.8 204.8,489.5 206.5,487.8 C208.2,486.1 209.3,484.8 211.0,484.0 C212.7,483.2 214.5,482.7 216.7,482.9 C218.8,483.1 221.5,483.0 223.9,485.0 C226.3,487.0 228.2,489.9 231.1,495.0 C234.0,500.1 237.6,509.5 241.2,515.3 C244.8,521.1 249.3,526.8 252.7,529.7 C256.1,532.6 259.0,532.0 261.4,532.6 C263.8,533.2 265.3,533.0 267.0,533.5 C268.7,534.0 269.6,533.7 271.5,535.5 C273.4,537.3 275.6,536.9 278.7,544.1 C281.8,551.3 286.7,569.9 290.3,578.8 C293.9,587.7 297.5,593.6 300.4,597.5 C303.3,601.4 301.8,601.5 307.6,602.4 C313.4,603.2 330.4,602.6 335.0,602.6" stroke="#ff0000" stroke-width="1.3" fill="none"/>
<path d="M69.3,602.6 C70.2,602.2 73.0,602.3 75.0,600.2 C77.0,598.1 79.3,592.8 81.0,590.1 C82.7,587.4 83.7,585.9 85.0,584.1 C86.3,582.4 87.4,580.9 89.1,579.6 C90.8,578.4 93.1,577.4 95.1,576.6 C97.1,575.9 99.4,575.4 101.1,575.1 C102.8,574.8 103.9,575.1 105.1,574.6 C106.3,574.1 106.8,573.7 108.1,572.1 C109.4,570.5 111.6,567.8 113.1,565.1 C114.6,562.4 115.9,558.9 117.1,556.0 C118.3,553.1 119.1,550.7 120.1,548.0 C121.1,545.3 121.4,545.3 123.1,540.0 C124.8,534.7 127.7,524.0 130.0,516.0 C132.3,508.0 134.9,499.9 137.2,492.2 C139.5,484.5 141.9,476.9 144.0,470.0 C146.1,463.1 148.4,456.2 150.0,451.0 C151.6,445.8 152.3,442.6 153.8,438.8 C155.3,435.0 157.1,430.6 158.8,428.1 C160.5,425.6 162.1,424.7 163.8,423.8 C165.5,422.9 167.1,422.4 168.8,422.5 C170.5,422.6 171.9,422.5 173.8,424.4 C175.7,426.3 177.7,430.1 180.0,433.8 C182.3,437.5 185.0,443.3 187.5,446.3 C190.0,449.3 193.0,450.8 195.1,451.9 C197.2,453.0 198.2,453.3 200.1,453.2 C202.0,453.1 204.2,452.2 206.3,451.3 C208.4,450.4 210.6,448.4 212.6,447.5 C214.6,446.6 216.5,445.8 218.2,445.7 C219.9,445.6 221.0,445.5 222.6,446.9 C224.2,448.2 225.9,451.0 227.6,453.8 C229.3,456.6 230.9,459.8 232.6,463.8 C234.3,467.8 236.2,473.6 237.6,477.6 C239.0,481.6 239.2,482.0 241.2,487.8 C243.2,493.6 247.2,505.4 249.8,512.4 C252.5,519.4 255.1,526.2 257.1,529.7 C259.1,533.2 260.3,532.5 262.0,533.5 C263.7,534.5 265.1,534.2 267.2,535.5 C269.3,536.8 272.0,536.9 274.4,541.2 C276.8,545.5 279.0,554.3 281.6,561.5 C284.2,568.7 287.4,578.5 290.3,584.5 C293.2,590.5 296.6,594.7 298.9,597.5 C301.2,600.3 302.1,600.6 304.0,601.5 C305.9,602.4 304.8,602.4 310.0,602.6 C315.2,602.8 330.8,602.6 335.0,602.6" stroke="#000000" stroke-width="1.3" fill="none"/>
</g>
<rect x="201.3" y="342.6" width="126.4" height="73.7" fill="#fff" stroke="#999" stroke-width="1"/>
<path d="M203.1,352.3H236.2" stroke="#000000" stroke-width="1.1"/>
<text x="240.3" y="357.3" font-size="14.2" fill="#111" stroke="#111" stroke-width="0.12">As-deposited</text>
<path d="M203.1,370.4H236.2" stroke="#ff0000" stroke-width="1.1"/>
<text x="240.3" y="375.4" font-size="14.2" fill="#111" stroke="#111" stroke-width="0.12">1 day</text>
<path d="M203.1,388.5H236.2" stroke="#0000ff" stroke-width="1.1"/>
<text x="240.3" y="393.5" font-size="14.2" fill="#111" stroke="#111" stroke-width="0.12">4 day</text>
<path d="M203.1,406.6H236.2" stroke="#008a00" stroke-width="1.1"/>
<text x="240.3" y="411.6" font-size="14.2" fill="#111" stroke="#111" stroke-width="0.12">16 day</text>
<text x="158.3" y="402.4" font-size="13" text-anchor="middle" fill="#111" stroke="#111" stroke-width="0.12">PYRP P−N</text>
<text x="159.5" y="418.0" font-size="13" text-anchor="middle" fill="#111" stroke="#111" stroke-width="0.12">1228 cm<tspan font-size="8.8" dy="-4.9">−1</tspan></text>
<text x="253.6" y="436.9" font-size="13" text-anchor="middle" fill="#111" stroke="#111" stroke-width="0.12">PYRP C−N</text>
<text x="255.6" y="452.2" font-size="13" text-anchor="middle" fill="#111" stroke="#111" stroke-width="0.12">1198 cm<tspan font-size="8.8" dy="-4.9">−1</tspan></text>
<rect x="421.0" y="337.5" width="266.0" height="265.5" fill="none" stroke="#777" stroke-width="1.4"/>
<path d="M416.5,603.0H421.0 M418.5,575.0H421.0 M416.5,547.1H421.0 M418.5,519.1H421.0 M416.5,491.2H421.0 M418.5,463.2H421.0 M416.5,435.3H421.0 M418.5,407.4H421.0 M416.5,379.4H421.0 M418.5,351.5H421.0 M420.9,603.0V607.0 M444.1,603.0V605.5 M467.2,603.0V607.0 M490.4,603.0V605.5 M513.6,603.0V607.0 M536.8,603.0V605.5 M559.9,603.0V607.0 M583.1,603.0V605.5 M606.3,603.0V607.0 M629.4,603.0V605.5 M652.6,603.0V607.0 M675.8,603.0V605.5" stroke="#777" stroke-width="1.2" fill="none"/>
<text x="413.9" y="606.9" font-size="14" text-anchor="end" fill="#111" stroke="#111" stroke-width="0.12">0.00</text>
<text x="413.9" y="551.0" font-size="14" text-anchor="end" fill="#111" stroke="#111" stroke-width="0.12">0.04</text>
<text x="413.9" y="495.1" font-size="14" text-anchor="end" fill="#111" stroke="#111" stroke-width="0.12">0.08</text>
<text x="413.9" y="439.2" font-size="14" text-anchor="end" fill="#111" stroke="#111" stroke-width="0.12">0.12</text>
<text x="413.9" y="383.3" font-size="14" text-anchor="end" fill="#111" stroke="#111" stroke-width="0.12">0.16</text>
<text x="420.9" y="621.9" font-size="14" text-anchor="middle" fill="#111" stroke="#111" stroke-width="0.12">1800</text>
<text x="467.2" y="621.9" font-size="14" text-anchor="middle" fill="#111" stroke="#111" stroke-width="0.12">1760</text>
<text x="513.6" y="621.9" font-size="14" text-anchor="middle" fill="#111" stroke="#111" stroke-width="0.12">1720</text>
<text x="559.9" y="621.9" font-size="14" text-anchor="middle" fill="#111" stroke="#111" stroke-width="0.12">1680</text>
<text x="606.3" y="621.9" font-size="14" text-anchor="middle" fill="#111" stroke="#111" stroke-width="0.12">1640</text>
<text x="652.6" y="621.9" font-size="14" text-anchor="middle" fill="#111" stroke="#111" stroke-width="0.12">1600</text>
<text x="554.0" y="648.2" font-size="15.6" text-anchor="middle" fill="#111" stroke="#111" stroke-width="0.12">Wavenumber (cm<tspan font-size="10.5" dy="-5.8">&#8722;1</tspan><tspan dy="5.8">)</tspan></text>
<text transform="translate(371.4,463.9) rotate(-90)" font-size="15.8" text-anchor="middle" fill="#111" stroke="#111" stroke-width="0.12">Absorbance (a.u.)</text>
<text x="356.2" y="363.6" font-size="16.2" font-weight="bold" fill="#111" stroke="#111" stroke-width="0.12">C</text>
<clipPath id="clipC"><rect x="421.0" y="337.5" width="266.0" height="266.5"/></clipPath>
<g clip-path="url(#clipC)">
<path d="M578.2,362V603 M588.5,533V603" stroke="#444" stroke-width="1.3" stroke-dasharray="1.3,2.1" fill="none"/>
<path d="M420.9,602.8 C427.0,602.2 448.8,600.5 457.5,599.5 C466.2,598.5 468.4,598.5 473.3,596.5 C478.2,594.5 482.2,589.9 487.1,587.6 C492.0,585.3 498.6,583.0 502.9,582.7 C507.2,582.4 509.2,584.5 512.8,585.6 C516.4,586.8 520.6,588.5 524.6,589.6 C528.6,590.7 532.9,592.5 536.5,592.0 C540.1,591.5 542.8,589.0 546.4,586.6 C550.0,584.2 554.7,580.7 558.0,577.7 C561.3,574.7 562.6,572.1 566.0,568.5 C569.4,564.9 574.6,558.7 578.3,556.2 C581.9,553.7 584.9,553.4 587.9,553.6 C590.9,553.8 594.5,556.4 596.5,557.4 C598.5,558.4 597.3,557.6 599.6,559.4 C601.9,561.1 606.7,564.9 610.2,567.9 C613.8,570.9 617.0,574.9 620.9,577.4 C624.8,579.9 629.7,581.5 633.6,582.8 C637.5,584.0 640.4,583.7 644.3,584.9 C648.2,586.1 652.8,588.2 657.0,590.2 C661.2,592.2 664.8,594.5 669.8,596.6 C674.8,598.7 684.0,601.9 686.8,603.0" stroke="#008a00" stroke-width="1.65" fill="none"/>
<path d="M420.9,602.8 C424.1,602.6 433.9,602.2 440.0,601.5 C446.1,600.8 452.6,600.0 457.5,598.5 C462.4,597.0 465.4,596.2 469.3,592.6 C473.2,589.0 477.6,582.6 481.2,576.8 C484.8,571.0 487.8,562.6 491.1,558.0 C494.4,553.4 497.9,549.9 500.9,549.1 C503.8,548.3 506.2,550.8 508.8,553.1 C511.4,555.4 513.7,560.3 516.7,562.9 C519.7,565.5 524.0,568.9 526.6,568.9 C529.2,568.9 530.2,566.8 532.5,562.9 C534.8,559.0 537.8,551.5 540.4,545.2 C543.0,539.0 545.4,533.0 548.3,525.4 C551.2,517.8 555.4,507.5 558.0,499.7 C560.6,491.9 562.1,484.7 563.7,478.4 C565.3,472.1 566.2,466.7 567.8,462.0 C569.4,457.3 571.4,453.0 573.4,450.4 C575.4,447.8 577.7,446.1 579.9,446.3 C582.1,446.5 584.6,447.9 586.7,451.6 C588.9,455.3 590.8,461.7 592.8,468.6 C594.8,475.5 597.1,484.9 598.9,493.0 C600.7,501.1 602.2,510.0 603.8,517.3 C605.4,524.6 606.8,530.2 608.6,536.7 C610.4,543.2 612.7,551.3 614.7,556.2 C616.7,561.1 618.9,563.9 620.8,566.0 C622.7,568.1 624.1,568.9 626.1,568.9 C628.1,568.9 630.7,567.2 633.0,566.0 C635.3,564.8 638.3,562.2 640.0,561.5 C641.7,560.8 641.4,561.0 643.2,561.5 C645.0,562.0 648.0,561.5 650.6,564.7 C653.2,567.9 656.2,575.8 659.1,580.6 C662.0,585.4 664.5,590.0 667.7,593.4 C670.9,596.8 675.1,599.3 678.3,600.9 C681.5,602.5 685.4,602.6 686.8,603.0" stroke="#0000ff" stroke-width="1.65" fill="none"/>
<path d="M420.9,602.8 C423.7,602.6 432.3,601.9 437.7,601.4 C443.1,600.9 448.9,600.6 453.5,599.5 C458.1,598.4 461.8,598.0 465.4,594.5 C469.0,591.0 472.0,585.1 475.3,578.7 C478.6,572.3 482.2,562.9 485.1,556.0 C488.1,549.1 490.4,541.6 493.0,537.3 C495.6,533.0 498.3,530.9 500.9,530.4 C503.5,529.9 506.2,531.7 508.8,534.3 C511.4,536.9 514.1,542.9 516.7,546.2 C519.3,549.5 522.3,553.6 524.6,554.1 C526.9,554.6 528.6,552.9 530.6,549.1 C532.6,545.3 534.5,538.3 536.5,531.3 C538.5,524.3 540.6,515.2 542.4,507.0 C544.2,498.8 544.9,493.2 547.5,482.0 C550.1,470.8 554.8,452.0 557.8,440.0 C560.8,428.0 563.2,417.7 565.7,410.0 C568.2,402.3 570.5,397.6 572.6,394.0 C574.7,390.4 576.8,388.8 578.5,388.5 C580.2,388.2 581.5,389.0 583.0,392.5 C584.5,396.0 585.8,400.7 587.4,409.3 C589.0,417.9 591.3,434.4 592.8,444.3 C594.3,454.2 595.3,460.5 596.5,468.6 C597.7,476.7 598.9,484.9 600.1,493.0 C601.3,501.1 602.6,510.0 603.8,517.3 C605.0,524.6 606.0,530.4 607.4,536.7 C608.8,543.0 610.5,550.1 612.3,555.0 C614.1,559.9 616.6,563.7 618.4,566.0 C620.1,568.3 621.0,569.1 622.8,568.9 C624.6,568.7 626.4,567.4 629.3,564.7 C632.2,562.0 637.3,554.8 640.0,552.5 C642.7,550.2 643.2,550.1 645.3,550.9 C647.4,551.7 650.1,553.0 652.8,557.2 C655.5,561.5 658.5,570.4 661.3,576.4 C664.1,582.4 667.0,589.5 669.8,593.4 C672.6,597.3 675.5,598.2 678.3,599.8 C681.1,601.4 685.4,602.5 686.8,603.0" stroke="#ff0000" stroke-width="1.65" fill="none"/>
<path d="M420.9,602.8 C423.7,602.6 432.3,601.9 437.7,601.4 C443.1,600.9 448.9,600.8 453.5,599.5 C458.1,598.2 461.8,597.0 465.4,593.5 C469.0,590.0 472.0,585.1 475.3,578.7 C478.6,572.3 482.2,562.9 485.1,555.0 C488.1,547.1 490.7,536.9 493.0,531.3 C495.3,525.7 497.4,523.4 499.0,521.5 C500.6,519.6 501.3,519.4 502.9,519.9 C504.5,520.4 506.8,521.8 508.8,524.4 C510.8,527.0 512.8,532.0 514.8,535.3 C516.8,538.6 518.7,542.3 520.7,544.2 C522.7,546.1 524.8,546.9 526.6,546.7 C528.4,546.5 529.9,546.1 531.5,543.2 C533.1,540.3 534.7,535.4 536.5,529.4 C538.3,523.4 540.6,514.9 542.4,507.0 C544.2,499.1 545.8,489.8 547.5,482.0 C549.2,474.2 550.6,467.2 552.5,460.0 C554.4,452.8 556.4,447.3 558.8,438.9 C561.2,430.4 564.4,419.2 566.7,409.3 C569.0,399.4 571.0,386.7 572.6,379.6 C574.2,372.5 575.1,369.5 576.3,366.5 C577.4,363.5 578.4,361.8 579.5,361.5 C580.6,361.2 581.6,362.0 582.7,365.0 C583.9,368.0 585.0,372.2 586.4,379.6 C587.8,387.0 589.5,398.5 591.0,409.3 C592.5,420.1 594.0,434.4 595.3,444.3 C596.6,454.2 597.6,460.5 598.9,468.6 C600.2,476.7 601.9,484.9 603.3,493.0 C604.7,501.1 606.1,510.0 607.4,517.3 C608.7,524.6 609.8,530.8 611.1,536.7 C612.4,542.7 613.8,549.0 615.4,553.0 C617.0,557.0 619.2,559.8 620.8,561.0 C622.4,562.2 623.6,561.5 625.2,560.5 C626.8,559.5 628.4,557.8 630.5,555.0 C632.6,552.2 635.5,546.5 637.8,544.0 C640.1,541.5 642.2,539.7 644.3,539.8 C646.4,539.9 648.1,540.2 650.6,544.5 C653.1,548.8 656.2,558.3 659.1,565.7 C662.0,573.1 664.9,583.6 667.7,589.1 C670.6,594.6 673.0,596.4 676.2,598.7 C679.4,601.0 685.0,602.3 686.8,603.0" stroke="#000000" stroke-width="1.65" fill="none"/>
</g>
<path d="M566,578 H578.4 V574 L587.4,582.8 L578.4,591.3 V586.8 H566 Z" fill="#1f5e1f" stroke="#122e12" stroke-width="0.9"/>
<rect x="427.4" y="343" width="125.8" height="73.7" fill="#fff" stroke="#999" stroke-width="1"/>
<path d="M429,353.0H462" stroke="#000000" stroke-width="1.5" opacity="0.85"/>
<text x="466.3" y="358.0" font-size="14.2" fill="#111" stroke="#111" stroke-width="0.12">As-deposited</text>
<path d="M429,370.9H462" stroke="#ff0000" stroke-width="1.5" opacity="0.85"/>
<text x="466.3" y="375.9" font-size="14.2" fill="#111" stroke="#111" stroke-width="0.12">1 day</text>
<path d="M429,388.7H462" stroke="#0000ff" stroke-width="1.5" opacity="0.85"/>
<text x="466.3" y="393.7" font-size="14.2" fill="#111" stroke="#111" stroke-width="0.12">4 day</text>
<path d="M429,406.6H462" stroke="#008a00" stroke-width="1.5" opacity="0.85"/>
<text x="466.3" y="411.6" font-size="14.2" fill="#111" stroke="#111" stroke-width="0.12">16 day</text>
<text x="583.2" y="353.7" font-size="11.2" fill="#111" stroke="#111" stroke-width="0.12">Pyrrolidone C=O</text>
<text x="583.4" y="367.2" font-size="11.2" fill="#111" stroke="#111" stroke-width="0.12">1662−1655 cm<tspan font-size="7.6" dy="-4.2">−1</tspan></text>
<text x="496.2" y="499.4" font-size="11" text-anchor="middle" fill="#111" stroke="#111" stroke-width="0.12">TA C=O</text>
<text x="496.0" y="512.6" font-size="11" text-anchor="middle" fill="#111" stroke="#111" stroke-width="0.12">1729 cm<tspan font-size="7.6" dy="-4.2">−1</tspan></text>
<text x="610.2" y="521.0" font-size="11" fill="#111" stroke="#111" stroke-width="0.12">TA C−C<tspan font-size="8.2" dy="2.3">aromatic</tspan></text>
<text x="617.8" y="534.3" font-size="11" fill="#111" stroke="#111" stroke-width="0.12">1607 cm<tspan font-size="7.6" dy="-4.2">−1</tspan></text>
</svg>
</body></html>
